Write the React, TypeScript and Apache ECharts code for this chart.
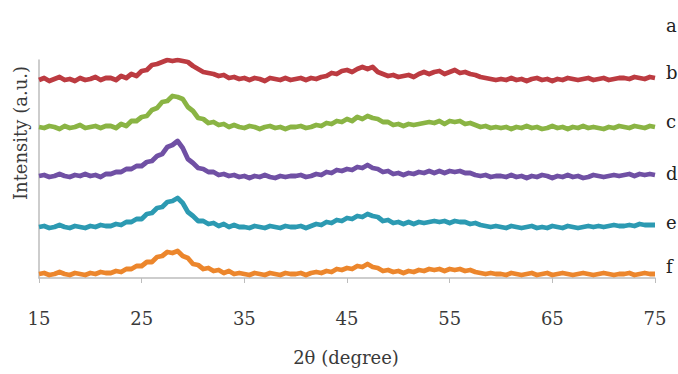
import React, { useEffect, useRef } from "react";
import * as echarts from "echarts";

// 2θ sampling grid: 15° to 75° in 0.5° steps (121 points)
const angles: number[] = Array.from({ length: 121 }, (_, i) => 15 + i * 0.5);

const xTicks = [15, 25, 35, 45, 55, 65, 75];

// Intensities (arbitrary units, stacked offsets as drawn)
const seriesB = [
  198, 200, 197, 199, 201, 198, 199, 197, 200, 198, 199, 201, 198, 200,
  200, 198, 202, 200, 204, 202,
  207, 208, 213, 214,
  216, 218, 217, 218, 217, 216,
  212, 209, 206, 205,
  204, 202, 203, 200, 201, 199,
  200, 198, 200, 199, 197, 200, 199, 198, 200, 198,
  199, 200, 198, 200, 199, 201,
  202, 205, 204, 207,
  208, 206, 209, 211, 209, 211,
  206, 204, 202, 203,
  201, 202, 203, 201,
  204, 206, 204, 206, 207, 204, 206, 208, 205, 206, 204, 203,
  201, 200, 199, 198,
  199, 198, 200, 198, 199, 197, 199, 200, 198, 199, 197, 199, 198, 200, 199, 198, 199, 200, 198, 199, 200, 198, 199, 200,
  200, 199, 201, 200, 199, 201,
  200,
];

const seriesC = [
  151, 150, 152, 151, 149, 152, 150, 151, 153, 150, 151, 152, 150, 152,
  152, 150, 154, 152, 157, 157,
  161, 162, 168, 170,
  176, 177, 182, 181, 179, 171,
  167, 160, 159, 155,
  156, 153, 154, 151, 153, 151,
  150, 152, 151, 149, 151, 152, 150, 151, 149, 151,
  151, 152, 150, 151, 153, 152,
  155, 154, 157, 156,
  159, 157, 161, 159, 162, 160,
  159, 156, 156, 153,
  154, 152, 154, 153,
  154, 155, 156, 155, 157, 154, 157, 156, 157, 154, 155, 153,
  151, 152, 150, 151,
  150, 151, 149, 151, 150, 152, 150, 151, 149, 150, 152, 150, 151, 149, 151, 150, 152, 150, 151, 150, 149, 151, 150, 152,
  151, 150, 152, 151, 150, 152,
  151,
];

const seriesD = [
  102, 103, 101, 102, 104, 102, 101, 103, 102, 104, 102, 103, 101, 104,
  104, 106, 106, 109, 109, 112,
  112, 116, 117, 122,
  124, 131, 133, 137, 130, 119,
  115, 110, 109, 106,
  106, 103, 104, 102, 103, 101,
  102, 100, 102, 101, 103, 101, 100, 102, 101, 102,
  102, 103, 101, 102, 104, 103,
  106, 105, 108, 107,
  109, 108, 111, 110, 113, 110,
  109, 106, 107, 104,
  105, 103, 105, 104,
  106, 105, 107, 105, 107, 105, 107, 106, 107, 105, 105, 103,
  102, 103, 101, 102,
  102, 101, 103, 101, 102, 100, 102, 101, 103, 102, 100, 102, 101, 103, 101, 102, 100, 101, 103, 102, 101, 102, 103, 102,
  103, 104, 102, 104, 103, 104,
  103,
];

const seriesE = [
  51, 52, 50, 51, 53, 51, 50, 52, 51, 50, 52, 51, 53, 52,
  52, 54, 53, 56, 56, 59,
  59, 64, 65, 70,
  71, 76, 77, 80, 75, 66,
  62, 57, 57, 54,
  55, 52, 54, 51, 53, 51,
  51, 50, 52, 51, 50, 52, 51, 50, 52, 51,
  51, 52, 50, 52, 54, 53,
  56, 55, 58, 57,
  60, 59, 62, 61, 64, 62,
  61, 57, 58, 55,
  56, 54, 56, 54,
  56, 55, 56, 57, 56, 57, 55, 57, 56, 56, 54, 55,
  53, 52, 51, 52,
  51, 50, 52, 51, 50, 51, 52, 50, 51, 50, 52, 51, 50, 52, 51, 50, 51, 52, 51, 52, 51, 52, 53, 52,
  52, 53, 52, 54, 53, 53,
  53,
];

const seriesF = [
  4, 5, 3, 4, 6, 4, 3, 5, 4, 3, 5, 4, 6, 5,
  5, 7, 6, 9, 9, 12,
  12, 16, 16, 21,
  22, 26, 25, 27, 22, 20,
  14, 13, 9, 10,
  7, 8, 5, 7, 4, 5,
  4, 3, 5, 4, 3, 5, 4, 3, 5, 4,
  4, 5, 3, 5, 6, 5,
  7, 6, 9, 8,
  10, 9, 12, 11, 14, 11,
  10, 7, 8, 6,
  7, 5, 7, 6,
  8, 7, 9, 8, 9, 7, 9, 8, 9, 7, 8, 6,
  5, 4, 5, 4,
  4, 3, 5, 4, 3, 4, 5, 3, 4, 5, 3, 4, 5, 4, 3, 4, 5, 4, 3, 4, 5, 4, 3, 4,
  4, 5, 3, 4, 5, 4,
  4,
];

const seriesNames = ["b", "c", "d", "e", "f"];
const seriesValues = [seriesB, seriesC, seriesD, seriesE, seriesF];
const seriesColors = ["#BC3B41", "#8AB444", "#7050A4", "#2C9AB2", "#EC862C"];

const curveLabels = ["a", "b", "c", "d", "e", "f"];
const curveLabelY = [25, 72, 121, 173, 222, 266];

const SERIF = "'DejaVu Serif', 'Liberation Serif', serif";

export default function App() {
  const ref = useRef<HTMLDivElement>(null);

  useEffect(() => {
    if (!ref.current) return;
    const chart = echarts.init(ref.current, null, { renderer: "svg" });
    chart.setOption({
      animation: false,
      backgroundColor: "#ffffff",
      grid: { left: 39, right: 23, top: 60, bottom: 96, containLabel: false },
      xAxis: {
        type: "value",
        min: 15,
        max: 75,
        interval: 10,
        axisLine: { show: true, lineStyle: { color: "#bdbdbd", width: 1.5 } },
        axisTick: { show: true, inside: false, length: 5, lineStyle: { color: "#bdbdbd" } },
        splitLine: { show: false },
        axisLabel: {
          margin: 31,
          fontFamily: SERIF,
          fontSize: 18,
          color: "#3a3a3a",
          formatter: (v: number) => (xTicks.includes(v) ? String(v) : ""),
        },
      },
      yAxis: {
        type: "value",
        min: 0,
        max: 218,
        axisLine: { show: true, lineStyle: { color: "#bdbdbd", width: 1.5 } },
        axisTick: { show: false },
        axisLabel: { show: false },
        splitLine: { show: false },
      },
      series: seriesValues.map((vals, k) => ({
        name: seriesNames[k],
        type: "line",
        data: angles.map((a, i) => [a, vals[i]]),
        showSymbol: false,
        symbol: "none",
        clip: true,
        lineStyle: { color: seriesColors[k], width: 4.8, join: "round" },
      })),
      graphic: [
        {
          type: "text",
          x: 20,
          y: 133,
          rotation: Math.PI / 2,
          style: {
            text: "Intensity (a.u.)",
            fontFamily: SERIF,
            fontSize: 18,
            fill: "#3a3a3a",
            align: "center",
            verticalAlign: "middle",
          },
        },
        {
          type: "text",
          x: 346,
          y: 357,
          style: {
            text: "2θ (degree)",
            fontFamily: SERIF,
            fontSize: 18,
            fill: "#3a3a3a",
            align: "center",
            verticalAlign: "middle",
          },
        },
        ...curveLabels.map((t, i) => ({
          type: "text",
          x: 666,
          y: curveLabelY[i],
          style: {
            text: t,
            fontFamily: SERIF,
            fontSize: 18,
            fill: "#222222",
            align: "left",
            verticalAlign: "middle",
          },
        })),
      ],
    });
    return () => chart.dispose();
  }, []);

  return <div ref={ref} style={{ width: 678, height: 374, position: "absolute", left: 0, top: 0 }} />;
}
